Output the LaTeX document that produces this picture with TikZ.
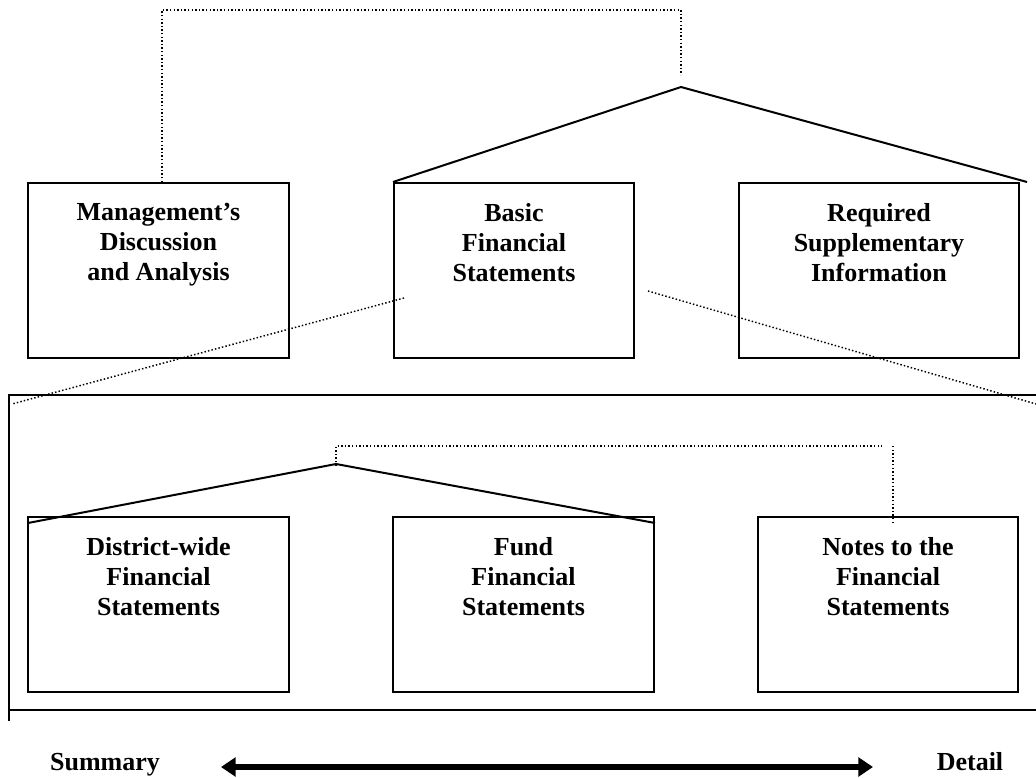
\documentclass[tikz,border=0pt]{standalone}
\usepackage{fontspec}
\setmainfont{Liberation Serif}
\usetikzlibrary{arrows.meta}
\def\pxl{0.75pt}
\begin{document}
\begin{tikzpicture}[x=0.75pt,y=-0.75pt,
  box/.style={draw, line width=1.5pt, inner sep=0pt, minimum height=175*\pxl},
  lbl/.style={inner sep=0pt, align=center, anchor=north, font=\fontsize{19.5}{22.5}\selectfont\bfseries},
  endlbl/.style={inner sep=0pt, anchor=base, font=\fontsize{19.5}{22.5}\selectfont\bfseries},
  solidline/.style={line width=1.5pt},
  dotline/.style={line width=1.1pt, dash pattern=on 1.1pt off 1.6pt},
  frame/.style={line width=1.1pt},
  bigarrow/.style={line width=3.9pt, {Triangle[length=11pt,width=14pt]}-{Triangle[length=11pt,width=14pt]}}
]
\useasboundingbox (0,0) rectangle (1036,778);

% top row
\node[box, minimum width=261*\pxl] (m) at (158.5,270.5) {};
\node[box, minimum width=240*\pxl] (b) at (514,270.5) {};
\node[box, minimum width=280*\pxl] (r) at (879,270.5) {};
\node[lbl] (mt) at ([yshift=-21*\pxl]m.north) {Management's\\Discussion\\and Analysis};
\node[lbl] (bt) at ([yshift=-21*\pxl]b.north) {Basic\\Financial\\Statements};
\node[lbl] (rt) at ([yshift=-21*\pxl]r.north) {Required\\Supplementary\\Information};

% top connectors
\coordinate (apex) at (681,87);
\coordinate (apexTop) at (681,75);
\coordinate (topL) at (162,10);
\coordinate (topR) at (681,10);
\coordinate (rEnd) at (1027,182);
\draw[dotline] (m.north -| topL) -- (topL) -- (topR) -- (apexTop);
\draw[solidline] (b.north west) -- (apex) -- (rEnd);

% frame of the expanded basic financial statements
\coordinate (fTR) at (1036,395);
\coordinate (fTL) at (9,395);
\coordinate (fBL) at (9,721);
\coordinate (fBotL) at (9,710);
\coordinate (fBotR) at (1036,710);
\draw[frame] (fTR) -- (fTL) -- (fBL);
\draw[frame] (fBotL) -- (fBotR);

% zoom lines
\coordinate (zl1) at (404,298);
\coordinate (zl2) at (12,404);
\coordinate (zr1) at (648,291);
\coordinate (zr2) at (1036,404);
\draw[dotline] (zl1) -- (zl2);
\draw[dotline] (zr1) -- (zr2);

% bottom row
\node[box, minimum width=261*\pxl] (d) at (158.5,604.5) {};
\node[box, minimum width=261*\pxl] (f) at (523.5,604.5) {};
\node[box, minimum width=260*\pxl] (n) at (888,604.5) {};
\node[lbl] (dt) at ([yshift=-21*\pxl]d.north) {District-wide\\Financial\\Statements};
\node[lbl] (ft) at ([yshift=-21*\pxl]f.north) {Fund\\Financial\\Statements};
\node[lbl] (nt) at ([yshift=-21*\pxl]n.north) {Notes to the\\Financial\\Statements};

% bottom connectors
\coordinate (iapex) at (336,464);
\coordinate (iapexTop) at (336,446);
\coordinate (iL) at (28,523);
\coordinate (iR) at (655,523);
\coordinate (hEnd) at (882,446);
\coordinate (vTop) at (893,446);
\coordinate (vEnd) at (893,522);
\draw[solidline] (iL) -- (iapex) -- (iR);
\draw[dotline] ([yshift=-2*\pxl]iapex) -- (iapexTop) -- (hEnd);
\draw[dotline] (vTop) -- (vEnd);

% summary / detail
\node[endlbl] (sum) at (105,770) {Summary};
\node[endlbl] (det) at (970,770) {Detail};
\coordinate (aL) at (221,767);
\coordinate (aR) at (873,767);
\draw[bigarrow] (aL) -- (aR);
\end{tikzpicture}
\end{document}
